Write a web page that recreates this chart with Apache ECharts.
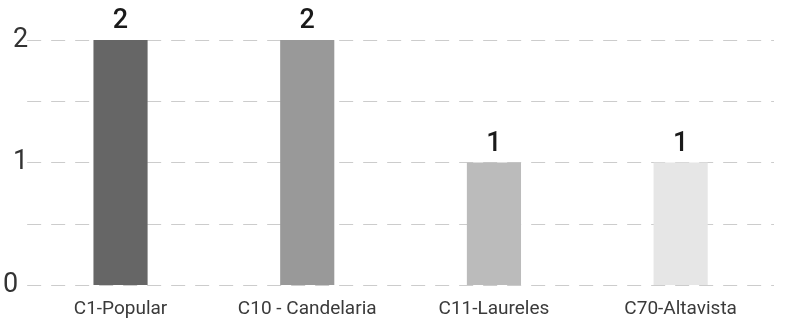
<!DOCTYPE html>
<html>
<head>
<meta charset="utf-8">
<script src="https://cdn.jsdelivr.net/npm/echarts@6/dist/echarts.min.js"></script>
<style>html,body{margin:0;padding:0;background:#fff}#c{width:788px;height:324px}</style>
</head>
<body>
<div id="c"></div>
<script>
const categories = ["C1-Popular", "C10 - Candelaria", "C11-Laureles", "C70-Altavista"];
const values = [2, 2, 1, 1];
const barColors = ["#666666", "#999999", "#bbbbbb", "#e6e6e6"];
const yTicks = [0, 1, 2];

const chart = echarts.init(document.getElementById('c'));
chart.setOption({
  animation: false,
  grid: { left: 26, right: 14, top: 40, bottom: 39 },
  xAxis: {
    type: 'category',
    data: categories,
    axisLine: { show: false },
    axisTick: { show: false },
    axisLabel: { color: '#3a3a3a', fontSize: 19, fontFamily: 'Roboto', margin: 15 }
  },
  yAxis: {
    type: 'value',
    min: 0, max: 2, interval: 0.5,
    axisLine: { show: false },
    axisTick: { show: false },
    axisLabel: {
      color: '#333', fontSize: 27, fontFamily: 'Roboto', margin: -1,
      formatter: v => !yTicks.includes(v) ? '' : (v === 0 ? '{z|0}' : String(v)),
      rich: { z: { fontSize: 27, color: '#333', fontFamily: 'Roboto', padding: [0, 10, 0, 0] } }
    },
    splitLine: { show: true, lineStyle: { color: '#cccccc', type: [14, 10], width: 1 } }
  },
  series: [{
    type: 'bar',
    data: values.map((v, i) => ({ value: v, itemStyle: { color: barColors[i] } })),
    barWidth: '29%',
    label: { show: true, position: 'top', distance: 5, color: '#1a1a1a', fontSize: 27, fontWeight: 500, fontFamily: 'Roboto' }
  }]
});
</script>
</body>
</html>
